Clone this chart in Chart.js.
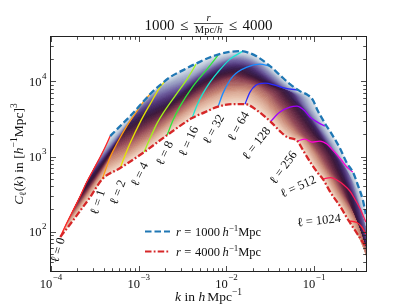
<!DOCTYPE html>
<html><head><meta charset="utf-8">
<script src="https://cdn.jsdelivr.net/npm/chart.js@4/dist/chart.umd.min.js"></script>
<style>html,body{margin:0;padding:0;background:#fff;}canvas{display:block;}</style>
</head><body>
<canvas id="c" width="407" height="305"></canvas>
<script>
// ---------------- data ----------------
// envelope r = 1000 h^-1 Mpc (upper, dashed)
const kR1000 = [4.73e-4,5.39e-4,6.48e-4,8.20e-4,1.066e-3,1.350e-3,1.754e-3,2.28e-3,3.21e-3,4.63e-3,7.04e-3,0.01043,0.01428,0.01856,0.0229,0.03135,0.0407,0.0530,0.0688,0.0849,0.0968,0.1103,0.1225,0.1361,0.1511,0.1964,0.236,0.2762,0.3148,0.3588,0.388];
const CR1000 = [1874,2183,2705,3564,4991,6777,8930,11410,14140,17520,21700,24520,25290,23780,21040,15980,12130,9207,7430,6574,5641,4027,3251,2624,2183,1297,820,622,418,264,172];
// envelope r = 4000 h^-1 Mpc (lower, dash-dot)
const kR4000 = [1.276e-4,1.66e-4,2.157e-4,2.80e-4,3.84e-4,6.15e-4,1.153e-3,2.108e-3,4.06e-3,5.71e-3,8.03e-3,0.01189,0.01628,0.0229,0.0318,0.0407,0.0490,0.0645,0.0745,0.0918,0.1103,0.1258,0.1551,0.1964,0.2487,0.3066,0.388];
const CR4000 = [85,126.6,191,289,502,703,1148,1931,3251,3906,4623,4991,4991,4027,2920,2183,1817,1607,1220,820,603,502,327,220,139,96.1,62.6];
// multipoles
const ellValues = [0,1,2,4,8,16,32,64,128,256,512,1024];
const kEll0 = [1.276e-4,1.493e-4,1.794e-4,2.157e-4,2.523e-4,3.03e-4,3.64e-4,4.15e-4,4.73e-4];
const CEll0 = [85,126.6,194.4,298,444,662,985,1337,1874];
const kEll1 = [3.84e-4,4.26e-4,4.73e-4,5.68e-4,7.20e-4,9.35e-4,1.124e-3,1.350e-3];
const CEll1 = [502,703,985,1512,2469,3906,5305,6777];
const kEll2 = [6.15e-4,7.01e-4,7.99e-4,1.039e-3,1.350e-3,1.754e-3,2.108e-3];
const CEll2 = [703,1047,1512,2876,4991,8400,10730];
const kEll4 = [1.153e-3,1.350e-3,1.622e-3,1.898e-3,2.74e-3,3.56e-3,4.51e-3];
const CEll4 = [1148,1762,2789,3788,6988,10730,16980];
const kEll8 = [2.108e-3,2.466e-3,2.964e-3,4.17e-3,6.01e-3,8.03e-3];
const CEll8 = [1931,3058,4693,8660,14580,22370];
const kEll16 = [4.06e-3,4.63e-3,5.42e-3,6.51e-3,7.82e-3,0.01099,0.01545];
const CEll16 = [3251,4840,6988,9790,12890,19800,25290];
const kEll32 = [8.03e-3,9.15e-3,0.01189,0.01716,0.0241,0.03135];
const CEll32 = [4623,6988,11760,15500,16980,15980];
const kEll64 = [0.01628,0.01856,0.02173,0.02751,0.03574,0.04645,0.0653];
const CEll64 = [4991,7206,8930,9493,8930,8145,7660];
const kEll128 = [0.0318,0.0407,0.0530,0.0637,0.0764,0.0895,0.1042,0.1193,0.1325];
const CEll128 = [2920,3906,4552,4693,4154,3352,2966,2705,2545];
const kEll256 = [0.0645,0.0785,0.0943,0.1163,0.1397,0.1634,0.1964,0.236,0.2762];
const CEll256 = [1607,1709,1559,1607,1466,1220,955,725,622];
const kEll512 = [0.1258,0.1551,0.1816,0.2182,0.2553,0.2909,0.3317,0.388];
const CEll512 = [502,526,487,418,348,272,207,134.6];
const kEll1024 = [0.2487,0.3066,0.3497,0.388];
const CEll1024 = [139,132.6,115.5,93.2];
const xTickDecades = [-4,-3,-2,-1];
const yTickDecades = [2,3,4];

const ellK = [kEll0,kEll1,kEll2,kEll4,kEll8,kEll16,kEll32,kEll64,kEll128,kEll256,kEll512,kEll1024];
const ellC = [CEll0,CEll1,CEll2,CEll4,CEll8,CEll16,CEll32,CEll64,CEll128,CEll256,CEll512,CEll1024];

// ---------------- styles ----------------
const ellColors = ['#ff2424','#ff9a10','#e4e400','#a2f51a','#2de83a','#16e8d4','#1a8cff','#2a2aff','#a000ff','#ff00d2','#ff1a5a','#ff2035'];
const ellLabelStyle = [
  {dx:-3,dy:13,a:-74},{dx:-5,dy:23,a:-72},{dx:-3,dy:24,a:-69},{dx:-5,dy:22,a:-64},
  {dx:-3,dy:18,a:-65},{dx:-4,dy:23,a:-66},{dx:-5,dy:22.5,a:-61},{dx:-7,dy:22,a:-61},
  {dx:-14.5,dy:21.5,a:-52},{dx:-14.5,dy:26,a:-54},{dx:-25,dy:7,a:-24},{dx:-30,dy:-1,a:-6}
];
// colour across the band: s = 0 at r = 1000, s = 1 at r = 4000
const cmap = [
  [0.00,[222,228,234]],[0.08,[186,198,216]],[0.18,[146,150,190]],[0.28,[108,92,158]],
  [0.38,[76,48,116]],[0.48,[54,27,76]],[0.56,[60,23,56]],[0.64,[94,36,64]],
  [0.74,[146,70,84]],[0.85,[198,132,115]],[0.94,[230,191,169]],[1.00,[243,227,216]]
];
const FF = "'Liberation Serif','DejaVu Serif',serif";

function cmapColor(s){
  s=Math.max(0,Math.min(1,s));
  for(let i=1;i<cmap.length;i++){
    if(s<=cmap[i][0]){
      const [s0,c0]=cmap[i-1],[s1,c1]=cmap[i];const f=(s-s0)/(s1-s0);
      return 'rgb('+c0.map((v,j)=>Math.round(v+f*(c1[j]-v))).join(',')+')';
    }
  }
  return 'rgb('+cmap[cmap.length-1][1].join(',')+')';
}
const L10=Math.log10;
function toLog(ks,cs){return ks.map((k,i)=>({x:L10(k),y:L10(cs[i])}));}
function interp(a,x){
  const n=a.length;
  if(x<=a[0].x){const p=a[0],q=a[1];return p.y+(x-p.x)*(q.y-p.y)/(q.x-p.x);}
  if(x>=a[n-1].x){const p=a[n-2],q=a[n-1];return q.y+(x-q.x)*(q.y-p.y)/(q.x-p.x);}
  for(let i=1;i<n;i++){if(x<=a[i].x){const p=a[i-1],q=a[i];return p.y+(x-p.x)*(q.y-p.y)/(q.x-p.x);}}
}

// ---------------- band fill (drawn from the series through the scales) ----------------
const bandPlugin={
  id:'band',
  beforeDatasetsDraw(chart){
    const {ctx,chartArea:ca,scales:{x:xs,y:ys}}=chart;
    const lower=toLog(kR4000,CR4000), upper=toLog(kR1000,CR1000);
    const curves=ellK.map((ks,j)=>toLog(ks,ellC[j]));
    const NT=64,W=12,nFull=10;
    let delta=0;for(let j=7;j<10;j++){const c=curves[j];delta+=c[c.length-1].x-c[0].x;}delta/=3;
    const cols=curves.map((c,j)=>({xL:c[0].x,xU:j<nFull?c[c.length-1].x:c[0].x+delta,c,full:j<nFull}));
    const lxMax=L10(xs.max);
    cols.push({xL:lxMax,xU:lxMax+delta,c:null,full:false});
    cols.forEach(col=>{
      const D=new Array(NT+1).fill(0);
      if(col.c){
        const c=col.c,xLast=c[c.length-1].x,raw=[];
        for(let i=0;i<=NT;i++){
          const t=i/NT,x=col.xL+t*(col.xU-col.xL);
          const base=(1-t)*interp(lower,col.xL)+t*interp(upper,col.xU);
          raw[i]=(x<=xLast+1e-9)?interp(c,x)-base:null;
        }
        const D0=raw[0];
        if(col.full){const D1=raw[NT];for(let i=0;i<=NT;i++){const t=i/NT;D[i]=raw[i]-(1-t)*D0-t*D1;}}
        else{
          let im=0;for(let i=0;i<=NT;i++){if(raw[i]!==null)im=i;}
          for(let i=0;i<=im;i++){const t=i/NT;D[i]=raw[i]-(1-t)*D0;}
          const tim=im/NT;for(let i=im+1;i<=NT;i++){const t=i/NT;D[i]=D[im]*(1-t)/(1-tim);}
        }
      }
      col.D=D;
    });
    function pt(a,b,w,i){
      const t=i/NT;
      const lX=a.xL+w*(b.xL-a.xL),uX=a.xU+w*(b.xU-a.xU);
      const x=(1-t)*lX+t*uX;
      const y=(1-t)*interp(lower,lX)+t*interp(upper,uX)+(1-w)*a.D[i]+w*b.D[i];
      return [xs.getPixelForValue(Math.pow(10,x)),ys.getPixelForValue(Math.pow(10,y))];
    }
    function row(i){
      const r=[];
      for(let p=0;p<cols.length-1;p++){
        for(let s=(p===0?0:1);s<=W;s++){r.push(pt(cols[p],cols[p+1],s/W,i));}
      }
      return r;
    }
    const rows=[];for(let i=0;i<=NT;i++)rows.push(row(i));
    ctx.save();
    ctx.beginPath();ctx.rect(ca.left,ca.top,ca.right-ca.left,ca.bottom-ca.top);ctx.clip();
    ctx.lineJoin='round';ctx.lineWidth=0.7;
    for(let i=0;i<NT;i++){
      const tm=(i+0.5)/NT,s=1-tm,col=cmapColor(s);
      const a=rows[i],b=rows[i+1];
      ctx.beginPath();ctx.moveTo(a[0][0],a[0][1]);
      for(let q=1;q<a.length;q++)ctx.lineTo(a[q][0],a[q][1]);
      for(let q=b.length-1;q>=0;q--)ctx.lineTo(b[q][0],b[q][1]);
      ctx.closePath();ctx.fillStyle=col;ctx.strokeStyle=col;ctx.fill();ctx.stroke();
    }
    ctx.restore();
  }
};

// ---------------- text helpers ----------------
function fnt(s,it){return (it?'italic ':'')+s+'px '+FF;}
function runsW(ctx,runs){let w=0;for(const r of runs){ctx.font=fnt(r.s,r.it);w+=ctx.measureText(r.t).width+(r.g||0);}return w;}
function drawRuns(ctx,runs,x,y,align){
  const w=runsW(ctx,runs);let cx=align==='center'?x-w/2:align==='right'?x-w:x;
  for(const r of runs){ctx.font=fnt(r.s,r.it);ctx.fillText(r.t,cx,y+(r.dy||0));cx+=ctx.measureText(r.t).width+(r.g||0);}
  return w;
}

const decorPlugin={
  id:'decor',
  afterDatasetsDraw(chart){
    const {ctx,chartArea:ca,scales:{x:xs,y:ys}}=chart;
    ctx.save();
    ctx.fillStyle='#111';ctx.strokeStyle='#222';ctx.textAlign='left';ctx.textBaseline='alphabetic';
    // ell labels
    ellValues.forEach((l,j)=>{
      const st=ellLabelStyle[j];
      const px=xs.getPixelForValue(ellK[j][0])+st.dx, py=ys.getPixelForValue(ellC[j][0])+st.dy;
      ctx.save();ctx.translate(px,py);ctx.rotate(st.a*Math.PI/180);
      drawRuns(ctx,[{t:'ℓ',s:12.5,g:3},{t:'=',s:12.5,g:3},{t:String(l),s:12.5}],0,4.3,'center');
      ctx.restore();
    });
    // legend
    const lx0=145,lx1=170;
    ctx.lineWidth=2.2;
    ctx.strokeStyle='#1f77b4';ctx.setLineDash([6.5,3]);
    ctx.beginPath();ctx.moveTo(lx0,231.5);ctx.lineTo(lx1,231.5);ctx.stroke();
    ctx.strokeStyle='#d62728';ctx.setLineDash([6.5,2.2,1.8,2.2]);
    ctx.beginPath();ctx.moveTo(lx0,251.5);ctx.lineTo(lx1,251.5);ctx.stroke();
    ctx.setLineDash([]);
    ['1000','4000'].forEach((v,i)=>{
      drawRuns(ctx,[{t:'r',s:12.5,it:true,g:3.5},{t:'=',s:12.5,g:3.5},{t:v,s:12.5,g:2.5},{t:'h',s:12.5,it:true},{t:'−1',s:9,dy:-5},{t:'Mpc',s:12.5}],176,236+20*i,'left');
    });
    // frame
    ctx.strokeStyle='#222';ctx.lineWidth=1;
    ctx.strokeRect(ca.left-0.5,ca.top-0.5,ca.right-ca.left+1,ca.bottom-ca.top+1);
    // ticks (inward on four sides)
    ctx.lineWidth=0.8;
    const xmin=xs.min,xmax=xs.max,ymin=ys.min,ymax=ys.max;
    for(let d=-5;d<=0;d++){for(let m=1;m<=9;m++){
      const v=m*Math.pow(10,d);if(v<xmin*0.999||v>xmax*1.001)continue;
      const p=Math.round(xs.getPixelForValue(v))+0.5,len=m===1?5:2.8;
      ctx.beginPath();ctx.moveTo(p,ca.bottom);ctx.lineTo(p,ca.bottom-len);ctx.moveTo(p,ca.top);ctx.lineTo(p,ca.top+len);ctx.stroke();
    }}
    for(let d=1;d<=5;d++){for(let m=1;m<=9;m++){
      const v=m*Math.pow(10,d);if(v<ymin*0.999||v>ymax*1.001)continue;
      const p=Math.round(ys.getPixelForValue(v))+0.5,len=m===1?5:2.8;
      ctx.beginPath();ctx.moveTo(ca.left,p);ctx.lineTo(ca.left+len,p);ctx.moveTo(ca.right,p);ctx.lineTo(ca.right-len,p);ctx.stroke();
    }}
    // tick labels
    ctx.fillStyle='#111';
    xTickDecades.forEach(d=>{
      const p=xs.getPixelForValue(Math.pow(10,d));
      drawRuns(ctx,[{t:'10',s:12.5,g:0.5},{t:'−'+Math.abs(d),s:9,dy:-8}],p,287.5,'center');
    });
    yTickDecades.forEach(d=>{
      const p=ys.getPixelForValue(Math.pow(10,d));
      drawRuns(ctx,[{t:'10',s:12.5,g:0.5},{t:String(d),s:9,dy:-7}],46.5,p+4.5,'right');
    });
    // title
    {
      const s=15,g=5.5;
      ctx.font=fnt(s);const wa=ctx.measureText('1000').width,wl=ctx.measureText('≤').width;
      ctx.font=fnt(10.5);const wd=ctx.measureText('Mpc/').width+(ctx.font=fnt(10.5,true),ctx.measureText('h').width);
      const wf=wd+2;
      const tot=wa+g+wl+g+wf+g+wl+g+wa;
      let x=(ca.left+ca.right)/2-tot/2;const yb=29.5;
      ctx.font=fnt(s);ctx.fillText('1000',x,yb);x+=wa+g;ctx.fillText('≤',x,yb);x+=wl+g;
      const fx=x;
      ctx.font=fnt(10.5,true);const wr=ctx.measureText('r').width;ctx.fillText('r',fx+wf/2-wr/2,20.5);
      ctx.lineWidth=0.8;ctx.beginPath();ctx.moveTo(fx,23.5);ctx.lineTo(fx+wf,23.5);ctx.stroke();
      drawRuns(ctx,[{t:'Mpc/',s:10.5},{t:'h',s:10.5,it:true}],fx+wf/2,32.5,'center');
      x+=wf+g;ctx.font=fnt(s);ctx.fillText('≤',x,yb);x+=wl+g;ctx.fillText('4000',x,yb);
    }
    // x label
    drawRuns(ctx,[{t:'k',s:13.5,it:true,g:3.5},{t:'in',s:13.5,g:3.5},{t:'h',s:13.5,it:true,g:2},{t:'Mpc',s:13.5},{t:'−1',s:9.5,dy:-6}],(ca.left+ca.right)/2,301,'center');
    // y label
    ctx.save();ctx.translate(22.5,(ca.top+ca.bottom)/2);ctx.rotate(-Math.PI/2);
    drawRuns(ctx,[{t:'C',s:13.5,it:true},{t:'ℓ',s:9.5,dy:3},{t:'(',s:13.5},{t:'k',s:13.5,it:true},{t:')',s:13.5,g:3.5},{t:'in',s:13.5,g:3.5},{t:'[',s:13.5},{t:'h',s:13.5,it:true},{t:'−1',s:9.5,dy:-6},{t:'Mpc]',s:13.5},{t:'3',s:9.5,dy:-6}],0,0,'center');
    ctx.restore();
    ctx.restore();
  }
};

// ---------------- chart ----------------
const pts=(ks,cs)=>ks.map((k,i)=>({x:k,y:cs[i]}));
const datasets=[
  {data:pts(kR1000,CR1000),borderColor:'#1f77b4',borderWidth:2.3,borderDash:[6.5,3],cubicInterpolationMode:'monotone'},
  {data:pts(kR4000,CR4000),borderColor:'#d62728',borderWidth:2.3,borderDash:[6.5,2.2,1.8,2.2],cubicInterpolationMode:'monotone'}
];
ellValues.forEach((l,j)=>datasets.push({data:pts(ellK[j],ellC[j]),borderColor:ellColors[j],borderWidth:1.3,cubicInterpolationMode:'monotone'}));

new Chart(document.getElementById('c'),{
  type:'line',
  data:{datasets},
  options:{
    responsive:false,animation:false,devicePixelRatio:1,
    layout:{padding:{left:51,top:37,right:41,bottom:34}},
    elements:{point:{radius:0,hoverRadius:0},line:{fill:false}},
    plugins:{legend:{display:false},tooltip:{enabled:false},title:{display:false}},
    events:[],
    scales:{
      x:{type:'logarithmic',min:1e-4,max:0.39,display:false},
      y:{type:'logarithmic',min:30,max:39000,display:false}
    }
  },
  plugins:[bandPlugin,decorPlugin]
});
</script>
</body></html>
